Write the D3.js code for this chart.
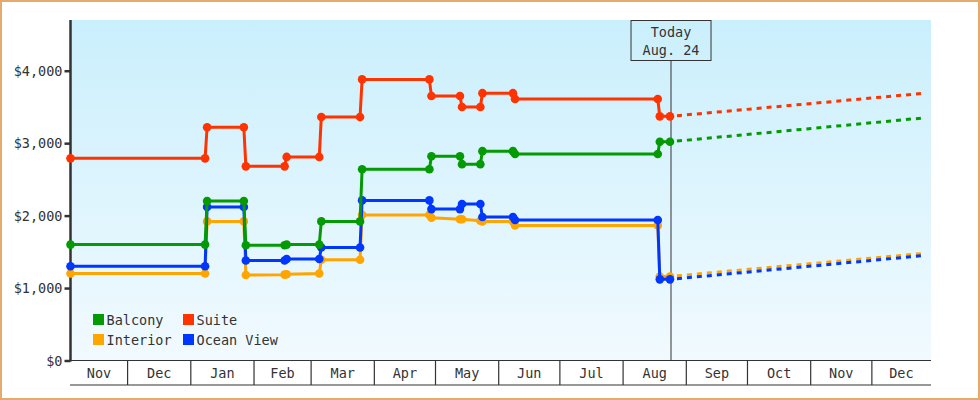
<!DOCTYPE html>
<html>
<head>
<meta charset="utf-8">
<script src="https://cdn.jsdelivr.net/npm/d3@7.9.0/dist/d3.min.js"></script>
<style>
  body { margin: 0; background: #fff; }
  svg text { font-family: "DejaVu Sans Mono", monospace; font-size: 13.5px; fill: #333; }
</style>
</head>
<body>
<svg width="980" height="400"></svg>
<script>
// price change dates (each change = old price on day d, new price on day d+1)
const dates = ['2018-11-03', '2019-01-08', '2019-01-09', '2019-01-27', '2019-01-28',
  '2019-02-16', '2019-02-17', '2019-03-05', '2019-03-06', '2019-03-25', '2019-03-26',
  '2019-04-28', '2019-04-29', '2019-05-13', '2019-05-14', '2019-05-23', '2019-05-24',
  '2019-06-08', '2019-06-09', '2019-08-18', '2019-08-19', '2019-08-24'];

const interior  = [1200, 1200, 1920, 1920, 1180, 1185, 1190, 1200, 1390, 1390, 2010,
  2010, 1970, 1950, 1950, 1930, 1920, 1920, 1865, 1865, 1160, 1160];
const oceanView = [1300, 1300, 2120, 2120, 1380, 1380, 1400, 1400, 1560, 1560, 2210,
  2210, 2090, 2090, 2160, 2160, 1980, 1980, 1940, 1940, 1120, 1120];
const balcony   = [1600, 1600, 2200, 2200, 1590, 1590, 1600, 1600, 1920, 1920, 2640,
  2640, 2820, 2820, 2710, 2710, 2890, 2890, 2850, 2850, 3020, 3020];
const suite     = [2790, 2790, 3220, 3220, 2680, 2680, 2810, 2810, 3360, 3360, 3880,
  3880, 3650, 3650, 3500, 3500, 3690, 3690, 3610, 3610, 3370, 3370];

// projected prices at the end of the forecast
const projectionDate = '2019-12-27';
const projected = { Interior: 1480, 'Ocean View': 1450, Balcony: 3350, Suite: 3690 };

const today = '2019-08-24T12:00';
const todayLabel = ['Today', 'Aug. 24'];
const yTicks = [0, 1000, 2000, 3000, 4000];

const series = [
  { name: 'Interior', values: interior, color: '#ffa500' },
  { name: 'Ocean View', values: oceanView, color: '#0037ff' },
  { name: 'Balcony', values: balcony, color: '#039a03' },
  { name: 'Suite', values: suite, color: '#ff3300' }
];
const legendOrder = ['Balcony', 'Suite', 'Interior', 'Ocean View'];

const parse = d3.isoParse;
const svg = d3.select('svg');

// outer frame
svg.append('rect').attr('x', 1).attr('y', 1).attr('width', 978).attr('height', 398)
  .attr('fill', '#fff').attr('stroke', '#e4ab6c').attr('stroke-width', 2);

const x = d3.scaleTime()
  .domain([parse('2018-11-03'), parse('2019-12-30')])
  .range([70.5, 931]);
const y = d3.scaleLinear().domain([0, 4700]).range([360.5, 20]);

// plot background gradient
const grad = svg.append('defs').append('linearGradient')
  .attr('id', 'bg').attr('x1', 0).attr('y1', 0).attr('x2', 0).attr('y2', 1);
grad.append('stop').attr('offset', '0%').attr('stop-color', '#caeffc');
grad.append('stop').attr('offset', '100%').attr('stop-color', '#f1faff');
svg.append('rect').attr('x', 71).attr('y', 20).attr('width', 860).attr('height', 340.5)
  .attr('fill', 'url(#bg)');

// x axis band with month cells
const [d0, d1] = x.domain();
const bounds = [d0, ...d3.timeMonth.range(d3.timeMonth.ceil(d0), d1), d1];
const band = svg.append('g').attr('stroke', '#333').attr('stroke-width', 1.2);
band.append('line').attr('x1', 70).attr('x2', 931).attr('y1', 360.5).attr('y2', 360.5);
band.append('line').attr('x1', 70).attr('x2', 931).attr('y1', 385).attr('y2', 385);
band.selectAll('.sep').data(bounds.slice(1, -1)).join('line')
  .attr('x1', d => x(d)).attr('x2', d => x(d)).attr('y1', 360.5).attr('y2', 385);
svg.selectAll('.month').data(d3.pairs(bounds)).join('text')
  .attr('x', d => (x(d[0]) + x(d[1])) / 2)
  .attr('y', 378)
  .attr('text-anchor', 'middle')
  .text(d => d3.timeFormat('%b')(d[0]));

// y axis
const yAxis = svg.append('g').attr('transform', 'translate(70.5,0)')
  .call(d3.axisLeft(y).tickValues(yTicks).tickSize(6).tickSizeOuter(0)
    .tickFormat(d => '$' + d3.format(',')(d)));
yAxis.select('.domain').attr('stroke', '#333').attr('stroke-width', 2.5)
  .attr('d', `M0,${y.range()[0] + 1}V20`);
yAxis.selectAll('.tick line').attr('stroke', '#333').attr('stroke-width', 2.5);
yAxis.selectAll('.tick text').attr('x', -8).attr('dy', '0.35em')
  .style('font-family', '"DejaVu Sans Mono", monospace').style('font-size', '13.5px').attr('fill', '#333');

// today marker
const tx = x(parse(today));
svg.append('line').attr('x1', tx).attr('x2', tx).attr('y1', 60.5).attr('y2', 360)
  .attr('stroke', '#333').attr('stroke-width', 1);
svg.append('rect').attr('x', tx - 40).attr('y', 20.5).attr('width', 80).attr('height', 40)
  .attr('fill', 'none').attr('stroke', '#333').attr('stroke-width', 1);
svg.selectAll('.today').data(todayLabel).join('text')
  .attr('x', tx).attr('y', (d, i) => 37 + i * 18)
  .attr('text-anchor', 'middle').text(d => d);

const line = d3.line().x(d => x(d.date)).y(d => y(d.value));

// projections (dashed)
series.forEach(s => {
  const start = { date: parse(dates[dates.length - 1]), value: s.values[s.values.length - 1] };
  const end = { date: parse(projectionDate), value: projected[s.name] };
  svg.append('path').attr('d', line([start, end]))
    .attr('fill', 'none').attr('stroke', s.color).attr('stroke-width', 3)
    .attr('stroke-dasharray', '5,5').attr('stroke-dashoffset', -7);
});

// price history
series.forEach(s => {
  const pts = dates.map((d, i) => ({ date: parse(d), value: s.values[i] }));
  svg.append('path').attr('d', line(pts))
    .attr('fill', 'none').attr('stroke', s.color).attr('stroke-width', 3);
  svg.append('g').selectAll('circle').data(pts).join('circle')
    .attr('cx', d => x(d.date)).attr('cy', d => y(d.value)).attr('r', 4.3)
    .attr('fill', s.color);
});

// legend
const legend = svg.append('g').attr('transform', 'translate(93,314)');
legendOrder.forEach((name, i) => {
  const s = series.find(t => t.name === name);
  const g = legend.append('g')
    .attr('transform', `translate(${(i % 2) * 90},${Math.floor(i / 2) * 20})`);
  g.append('rect').attr('width', 11).attr('height', 11).attr('fill', s.color);
  g.append('text').attr('x', 13.5).attr('y', 10.5).text(name);
});
</script>
</body>
</html>
